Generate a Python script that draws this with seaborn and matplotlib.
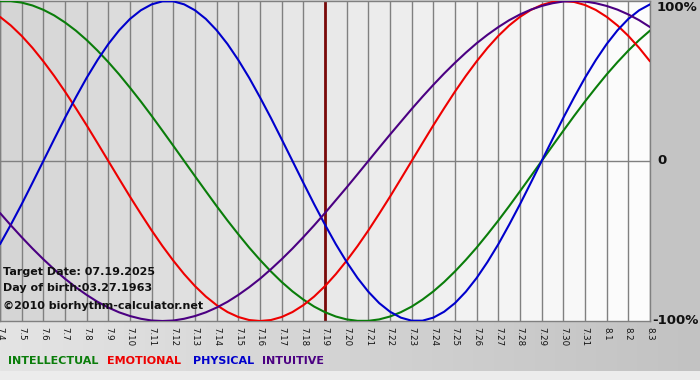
import numpy as np
import pandas as pd
import matplotlib
matplotlib.use('Agg')
import matplotlib.pyplot as plt
from matplotlib.colors import LinearSegmentedColormap
import seaborn as sns

# day labels along the bottom axis (7.4 .. 8.3)
day_labels = ['7.4', '7.5', '7.6', '7.7', '7.8', '7.9', '7.10', '7.11', '7.12', '7.13',
              '7.14', '7.15', '7.16', '7.17', '7.18', '7.19', '7.20', '7.21', '7.22', '7.23',
              '7.24', '7.25', '7.26', '7.27', '7.28', '7.29', '7.30', '7.31', '8.1', '8.2', '8.3']
target_label = '7.19'

# values every half day (-1 .. 1), starting at 7.4
intellectual = [0.999, 0.999, 0.990, 0.972, 0.945, 0.910, 0.866, 0.815, 0.756, 0.690, 0.618,
                0.541, 0.458, 0.372, 0.282, 0.189, 0.095, 0.000, -0.095, -0.189, -0.282,
                -0.372, -0.458, -0.541, -0.618, -0.690, -0.756, -0.815, -0.866, -0.910,
                -0.945, -0.972, -0.990, -0.999, -0.999, -0.990, -0.972, -0.945, -0.910,
                -0.866, -0.815, -0.756, -0.690, -0.618, -0.541, -0.458, -0.372, -0.282,
                -0.189, -0.095, 0.000, 0.095, 0.189, 0.282, 0.372, 0.458, 0.541, 0.618,
                0.690, 0.756, 0.815]
emotional = [0.901, 0.847, 0.782, 0.707, 0.623, 0.532, 0.434, 0.330, 0.223, 0.112, 0.000,
             -0.112, -0.223, -0.330, -0.434, -0.532, -0.623, -0.707, -0.782, -0.847, -0.901,
             -0.944, -0.975, -0.994, -1.000, -0.994, -0.975, -0.944, -0.901, -0.847, -0.782,
             -0.707, -0.623, -0.532, -0.434, -0.330, -0.223, -0.112, 0.000, 0.112, 0.223,
             0.330, 0.434, 0.532, 0.623, 0.707, 0.782, 0.847, 0.901, 0.944, 0.975, 0.994,
             1.000, 0.994, 0.975, 0.944, 0.901, 0.847, 0.782, 0.707, 0.623]
physical = [-0.520, -0.398, -0.270, -0.136, 0.000, 0.136, 0.270, 0.398, 0.520, 0.631, 0.731,
            0.817, 0.888, 0.942, 0.979, 0.998, 0.998, 0.979, 0.942, 0.888, 0.817, 0.731,
            0.631, 0.520, 0.398, 0.270, 0.136, 0.000, -0.136, -0.270, -0.398, -0.520,
            -0.631, -0.731, -0.817, -0.888, -0.942, -0.979, -0.998, -0.998, -0.979, -0.942,
            -0.888, -0.817, -0.731, -0.631, -0.520, -0.398, -0.270, -0.136, 0.000, 0.136,
            0.270, 0.398, 0.520, 0.631, 0.731, 0.817, 0.888, 0.942, 0.979]
intuitive = [-0.325, -0.402, -0.476, -0.547, -0.614, -0.677, -0.736, -0.789, -0.837, -0.880,
             -0.916, -0.946, -0.969, -0.986, -0.997, -1.000, -0.997, -0.986, -0.969, -0.946,
             -0.916, -0.880, -0.837, -0.789, -0.736, -0.677, -0.614, -0.547, -0.476, -0.402,
             -0.325, -0.245, -0.165, -0.083, 0.000, 0.083, 0.165, 0.245, 0.325, 0.402, 0.476,
             0.547, 0.614, 0.677, 0.736, 0.789, 0.837, 0.880, 0.916, 0.946, 0.969, 0.986,
             0.997, 1.000, 0.997, 0.986, 0.969, 0.946, 0.916, 0.880, 0.837]

series_names = ['INTELLECTUAL', 'EMOTIONAL', 'PHYSICAL', 'INTUITIVE']
series_colors = ['#0a7d0a', '#ee0000', '#0000cc', '#4b0082']

x = np.arange(len(day_labels))
days = np.arange(len(physical)) / 2.0
df = pd.DataFrame({
    'day': np.tile(days, 4),
    'value': intellectual + emotional + physical + intuitive,
    'cycle': np.repeat(series_names, len(days)),
})

sns.set_style('white')
plt.rcParams['font.family'] = ['DejaVu Sans']

W, H = 700, 380
fig = plt.figure(figsize=(W / 100, H / 100), dpi=100)

# figure background: grey gradient
bg = fig.add_axes([0, 0, 1, 1], zorder=-10)
cm = LinearSegmentedColormap.from_list('g', ['#e4e4e4', '#c2c2c2'])
bg.imshow(np.linspace(0, 1, 256)[None, :], aspect='auto', cmap=cm, extent=[0, 1, 0, 1])
bg.axvspan(650 / W, 1, ymin=1 - 325 / H, ymax=1, color='#c4c4c4', lw=0)
bg.axhspan(0, 1 - 371 / H, color='#ececec', lw=0)
bg.set_xlim(0, 1)
bg.set_ylim(0, 1)
bg.axis('off')

ax = fig.add_axes([0, 1 - 321 / H, 650 / W, 320 / H])
ax.patch.set_alpha(0)

# shaded day bands, darker on the left
n = len(x) - 1
for i in range(n):
    g = 0.835 + 0.155 * i / (n - 1)
    ax.axvspan(x[i], x[i + 1], color=(g, g, g), lw=0, zorder=0)

for xi in x:
    ax.axvline(xi, color='#808080', lw=1, zorder=1)
ax.axhline(0, color='#808080', lw=1, zorder=1)
ax.axvline(day_labels.index(target_label), color='#7a0a0a', lw=2, zorder=2)

sns.lineplot(data=df, x='day', y='value', hue='cycle', hue_order=series_names,
             palette=series_colors, lw=1.5, legend=False, ax=ax, zorder=3)

ax.set_xlim(x[0], x[-1])
ax.set_ylim(-1, 1)
ax.set_xticks(x)
ax.set_xticklabels(day_labels, rotation=270, fontsize=6.2, color='#111111')
ax.set_yticks([])
ax.set_xlabel('')
ax.set_ylabel('')
ax.tick_params(axis='x', direction='out', length=3, color='#808080', pad=1.5)
for s in ax.spines.values():
    s.set_color('#808080')
    s.set_linewidth(1)

# right-hand percent labels
lab = dict(fontsize=9.5, fontweight='bold', color='#111111')
ax.text(1.01, 1.0, '100%', transform=ax.transAxes, va='top', ha='left', **lab)
ax.text(1.012, 0.5, '0', transform=ax.transAxes, va='center', ha='left', **lab)
ax.text(1.004, 0.0, '-100%', transform=ax.transAxes, va='center', ha='left', **lab)

# info text
info = dict(fontsize=8, fontweight='bold', color='#111111', va='center', ha='left')
fig.text(3 / W, 1 - 272 / H, 'Target Date: 07.19.2025', **info)
fig.text(3 / W, 1 - 288 / H, 'Day of birth:03.27.1963', **info)
fig.text(3 / W, 1 - 306 / H, '\u00a92010 biorhythm-calculator.net', **info)

# colored legend words
for name, col, px in zip(series_names, series_colors, [8, 107, 193, 262]):
    fig.text(px / W, 1 - 361 / H, name, color=col, fontsize=8, fontweight='bold',
             va='center', ha='left')

fig.savefig('out.png', dpi=100)
